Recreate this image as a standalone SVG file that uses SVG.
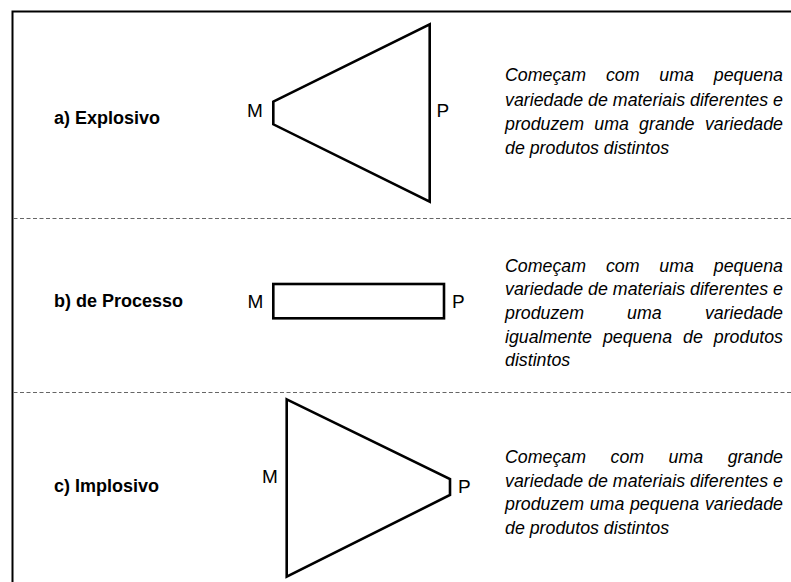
<svg xmlns="http://www.w3.org/2000/svg" width="791" height="582" viewBox="0 0 791 582">
<style>
.frame{fill:none;stroke:#000;stroke-width:2}
.sep{stroke:#666;stroke-width:1;stroke-dasharray:4 2.5}
.shape{fill:#fff;stroke:#000;stroke-width:2.6;stroke-linejoin:miter}
.lbl{font-family:"Liberation Sans",Arial,sans-serif;font-weight:bold;font-size:18px;fill:#000}
.mp{font-family:"Liberation Sans",Arial,sans-serif;font-size:19px;fill:#000}
.d{font-family:"Liberation Sans",Arial,sans-serif;font-style:italic;font-size:17.8px;fill:#000}
.e{text-anchor:end}
</style>
<rect width="791" height="582" fill="#fff"/>
<g id="frame">
<path class="frame" d="M12.5,582 V11.5 H791"/>
<line class="sep" x1="13.5" y1="218.5" x2="791" y2="218.5"/>
<line class="sep" x1="13.5" y1="392.5" x2="791" y2="392.5"/>
</g>
<g id="connectors"></g>
<g id="explosivo">
<text class="lbl" x="54" y="124">a) Explosivo</text>
<polygon class="shape" points="273.3,101.7 429.7,24.3 429.7,201.7 273.3,124.3"/>
<text class="mp" x="247" y="117">M</text>
<text class="mp" x="436.5" y="117">P</text>
<text class="d" y="81"><tspan x="505">Começam</tspan><tspan x="605.9">com</tspan><tspan x="659.3">uma</tspan></text>
<text class="d e" x="783" y="81">pequena</text>
<text class="d" x="505" y="105.5" textLength="278" lengthAdjust="spacing">variedade de materiais diferentes e</text>
<text class="d" y="130"><tspan x="505">produzem</tspan><tspan x="594.3">uma</tspan><tspan x="639.1">grande</tspan></text>
<text class="d e" x="783" y="130">variedade</text>
<text class="d" x="505" y="154">de produtos distintos</text>
</g>
<g id="processo">
<text class="lbl" x="54" y="307">b) de Processo</text>
<rect class="shape" x="273.3" y="284" width="170.7" height="34.3"/>
<text class="mp" x="247.5" y="308">M</text>
<text class="mp" x="452" y="308">P</text>
<text class="d" y="271.5"><tspan x="505">Começam</tspan><tspan x="605.9">com</tspan><tspan x="659.3">uma</tspan></text>
<text class="d e" x="783" y="271.5">pequena</text>
<text class="d" x="505" y="295.2" textLength="278" lengthAdjust="spacing">variedade de materiais diferentes e</text>
<text class="d" y="318.8"><tspan x="505">produzem</tspan><tspan x="627.1">uma</tspan></text>
<text class="d e" x="783" y="318.8">variedade</text>
<text class="d" y="342.5"><tspan x="505">igualmente</tspan><tspan x="602.9">pequena</tspan><tspan x="683">de</tspan></text>
<text class="d e" x="783" y="342.5">produtos</text>
<text class="d" x="505" y="366">distintos</text>
</g>
<g id="implosivo">
<text class="lbl" x="54" y="491.5">c) Implosivo</text>
<polygon class="shape" points="286.7,399.3 450,479 450,495 286.7,576.7"/>
<text class="mp" x="262" y="483">M</text>
<text class="mp" x="458" y="493">P</text>
<text class="d" y="462.5"><tspan x="505">Começam</tspan><tspan x="610.5">com</tspan><tspan x="668.5">uma</tspan></text>
<text class="d e" x="783" y="462.5">grande</text>
<text class="d" x="505" y="486.5" textLength="278" lengthAdjust="spacing">variedade de materiais diferentes e</text>
<text class="d" y="510"><tspan x="505">produzem</tspan><tspan x="589.7">uma</tspan><tspan x="629.9">pequena</tspan></text>
<text class="d e" x="783" y="510">variedade</text>
<text class="d" x="505" y="533.5">de produtos distintos</text>
</g>
</svg>
